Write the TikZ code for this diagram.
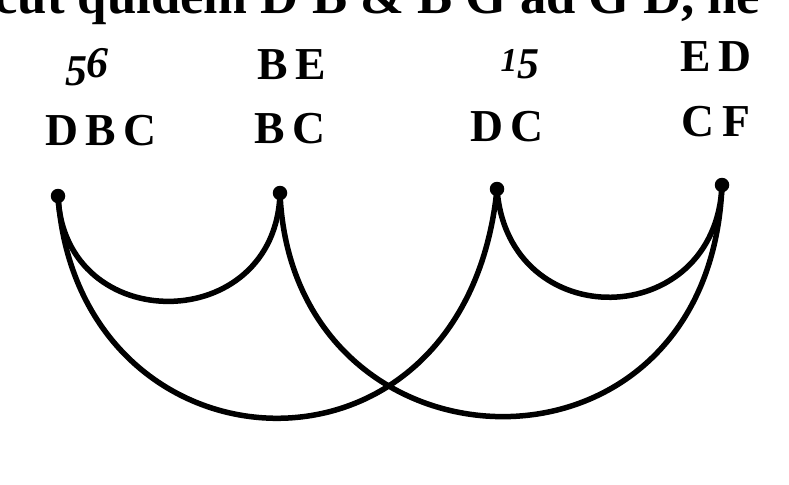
\documentclass[tikz,border=0pt]{standalone}
\usepackage{fontspec}
\setmainfont{Liberation Serif}
\usepackage{tikz}
\usetikzlibrary{positioning}
\tikzset{
  pt/.style     ={circle,fill=black,inner sep=0pt,minimum size=2.9mm},
  bow/.style    ={draw=black,line width=1.1mm,line cap=round},
  lbl/.style    ={font=\fontsize{26}{26}\selectfont\bfseries,inner sep=0pt},
  num/.style    ={font=\fontsize{25}{25}\selectfont\bfseries\itshape,inner sep=0pt},
  toptext/.style={font=\fontsize{30}{30}\selectfont\bfseries,inner sep=0pt},
}
\newcommand{\lowfig}[1]{\raisebox{-0.17em}{#1}}
\begin{document}
\begin{tikzpicture}[x=0.2mm,y=-0.2mm]
\useasboundingbox (0,0) rectangle (789,484);
\clip (0,0) rectangle (789,484);
% cut-off line of the page text
\node[toptext,anchor=base west] (txt) at (-6,13) {cut quidem D B \& B G ad G D, ne};
% the four points
\node[pt] (dbc) at (58,196) {};
\node[pt] (bc)  at (280,193) {};
\node[pt] (dc)  at (497,189) {};
\node[pt] (cf)  at (722,185) {};
% labels
\node[num] (n56) at (87,67)  {\lowfig{5}6};
\node[lbl] (be)  at (292,65) {B\,E};
\node[num] (n15) at (520,64) {{\fontsize{19}{19}\selectfont 1}\lowfig{5}};
\node[lbl] (ed)  at (716,57) {E\,D};
\node[lbl] (tdbc) at (101,131) {D\,B\,C};
\node[lbl] (tbc)  at (290,129) {B\,C};
\node[lbl] (tdc)  at (507,127) {D\,C};
\node[lbl] (tcf)  at (716,122) {C\,F};
% small bows
\draw[bow] (dbc.center) .. controls (64,338) and (276,336) .. (bc.center);
\draw[bow] (dc.center) .. controls (508,336) and (716,332) .. (cf.center);
% large bows
\draw[bow] (dbc.center) .. controls (78,482) and (465,505) .. (dc.center);
\draw[bow] (bc.center) .. controls (292,485) and (710,500) .. (cf.center);
\end{tikzpicture}
\end{document}
